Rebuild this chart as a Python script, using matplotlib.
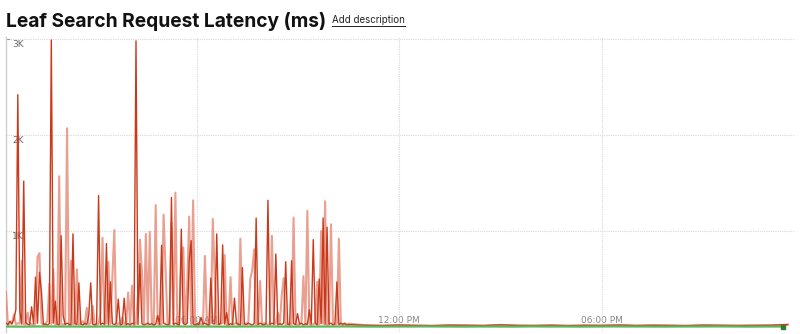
import numpy as np
import pandas as pd
import matplotlib
matplotlib.use("Agg")
import matplotlib.pyplot as plt
import matplotlib.dates as mdates
import matplotlib.transforms as mtransforms
from matplotlib.lines import Line2D

title = "Leaf Search Request Latency (ms)"

# samples every 3.5 min starting 00:21
start = pd.Timestamp("2024-01-01 00:21")
step = "210s"

latency_max = [
    40, 25, 60, 35, 80, 180, 2420, 170, 30, 1520,
    45, 30, 20, 210, 35, 520, 40, 570, 365, 25,
    30, 20, 35, 2990, 40, 270, 30, 20, 950, 120,
    25, 40, 30, 20, 970, 35, 25, 460, 30, 20,
    40, 25, 120, 460, 30, 20, 35, 1370, 25, 40,
    30, 870, 20, 470, 35, 25, 40, 290, 20, 30,
    300, 25, 35, 20, 40, 30, 2980, 25, 660, 35,
    20, 30, 40, 25, 35, 20, 30, 120, 25, 850,
    40, 30, 20, 35, 1350, 25, 40, 30, 20, 1020,
    35, 25, 40, 690, 900, 30, 20, 35, 25, 100,
    30, 40, 25, 20, 510, 35, 30, 970, 25, 40,
    855, 30, 150, 20, 35, 25, 300, 40, 30, 20,
    620, 35, 25, 40, 30, 20, 35, 1135, 25, 40,
    30, 20, 35, 1320, 25, 40, 30, 760, 20, 35,
    25, 40, 680, 30, 20, 690, 35, 25, 140, 30,
    40, 20, 35, 25, 180, 30, 910, 40, 20, 500,
    35, 1135, 25, 1040, 30, 40, 20, 35, 470, 25,
    40, 30, 35, 20, 25,
]

latency_p99 = [
    365, 20, 45, 30, 130, 25, 40, 35, 690, 30,
    25, 150, 40, 30, 20, 35, 730, 770, 40, 25,
    35, 60, 450, 30, 600, 20, 40, 1570, 30, 25,
    35, 2070, 20, 690, 30, 40, 600, 25, 35, 60,
    30, 200, 25, 40, 220, 30, 20, 35, 150, 930,
    25, 40, 680, 30, 520, 1010, 20, 35, 40, 100,
    30, 25, 360, 40, 430, 20, 35, 330, 910, 580,
    30, 970, 25, 990, 40, 20, 1270, 35, 25, 30,
    1170, 600, 40, 20, 1090, 35, 1400, 25, 30, 710,
    830, 40, 430, 1150, 25, 1320, 35, 20, 40, 30,
    25, 740, 35, 20, 40, 1125, 510, 30, 25, 35,
    40, 750, 20, 30, 520, 25, 35, 40, 20, 920,
    30, 25, 40, 35, 500, 590, 810, 20, 30, 480,
    25, 40, 35, 20, 30, 950, 25, 40, 150, 35,
    330, 510, 20, 30, 40, 25, 1140, 35, 20, 30,
    40, 530, 25, 1210, 35, 20, 30, 40, 470, 25,
    1000, 35, 1310, 20, 30, 1070, 40, 25, 35, 920,
    30, 20, 40, 25, 35,
]

# after ~10:30 the red series stays near zero (30 min samples)
tail_start = pd.Timestamp("2024-01-01 11:00")
tail_values = [
    18, 15, 20, 16, 14, 19, 17, 15, 22, 16, 15, 18, 14,
    17, 16, 20, 15, 18, 16, 14, 19, 17, 15, 16, 18, 25,
]

# green series, 30 min samples
green_start = pd.Timestamp("2024-01-01 00:21")
green_values = [
    5, 4, 6, 5, 5, 4, 6, 5, 4, 5, 6, 5, 5, 4, 5, 6,
    5, 4, 5, 5, 6, 5, 4, 5, 5, 6, 5, 4, 5, 5, 4, 6,
    5, 5, 4, 5, 6, 5, 5, 4, 5, 5, 6, 5, 4, 5, 5,
]

tick_times = ["06:00", "12:00", "18:00"]
tick_labels = ["06:00 AM", "12:00 PM", "06:00 PM"]
y_ticks = [1000, 2000, 3000]
y_labels = ["1K", "2K", "3K"]

t_main = pd.date_range(start, periods=len(latency_max), freq=step)
t_tail = pd.date_range(tail_start, periods=len(tail_values), freq="30min")
t_green = pd.date_range(green_start, periods=len(green_values), freq="30min")

t_red = t_main.append(t_tail)
red_max = latency_max + tail_values
red_p99 = latency_p99 + tail_values

fig = plt.figure(figsize=(8, 3.34), dpi=100)
ax = fig.add_axes([6 / 800, 2 / 334, 789 / 800, 295 / 334])

ax.plot(t_red, red_p99, color="#e3806c", lw=1.5, alpha=0.75, zorder=3)
ax.plot(t_red, red_max, color="#c93a1c", lw=1.0, zorder=4)
ax.plot(t_green, green_values, color="#5cb85c", lw=1.6, zorder=5)
ax.plot(t_green[-1:], green_values[-1:], "s", color="#2e7d32", ms=2.5, zorder=6)

ax.set_xlim(pd.Timestamp("2024-01-01 00:21"), pd.Timestamp("2024-01-01 23:43"))
ax.set_ylim(-52, 3021)

grid_x = [pd.Timestamp("2024-01-01 " + t) for t in tick_times]
ax.set_xticks(grid_x)
ax.set_yticks(y_ticks)
ax.grid(True, color="#d9d9d9", linestyle=(0, (1, 1)), linewidth=0.8, zorder=0)
ax.tick_params(length=0, labelbottom=False, labelleft=False)

for s in ["top", "right", "bottom"]:
    ax.spines[s].set_visible(False)
ax.spines["left"].set_color("#d0d0d0")
ax.spines["left"].set_linewidth(1.0)

# y labels inside the plot, just below the grid lines
ytr = mtransforms.blended_transform_factory(ax.transAxes, ax.transData)
for v, lab in zip(y_ticks, y_labels):
    ax.text(0.008, v - 15, lab, transform=ytr, ha="left", va="top",
            fontsize=6.5, color="#666666", zorder=2)
ax.plot([0, 0.004], [3000, 3000], transform=ytr, color="#999999", lw=0.8, clip_on=False)

# x labels inside the plot, under the lines
xtr = mtransforms.blended_transform_factory(ax.transData, ax.transAxes)
for gx, lab in zip(grid_x, tick_labels):
    ax.text(mdates.date2num(gx), 0.025, lab, transform=xtr, ha="center",
            va="bottom", fontsize=6.5, color="#888888", zorder=1)

fig.text(6 / 800, 1 - 27 / 334, title, fontsize=13.8, fontweight="bold",
         family=["Inter", "DejaVu Sans"], color="#111111", va="baseline")
desc = fig.text(332 / 800, 1 - 23 / 334, "Add description", fontsize=7,
                family=["Inter", "DejaVu Sans"], color="#222222", va="baseline")

fig.canvas.draw()
bb = desc.get_window_extent().transformed(fig.transFigure.inverted())
uy = 1 - 26 / 334
fig.add_artist(Line2D([bb.x0, bb.x1], [uy, uy], transform=fig.transFigure,
                      color="#222222", lw=0.7))

fig.savefig("out.png", dpi=100)
